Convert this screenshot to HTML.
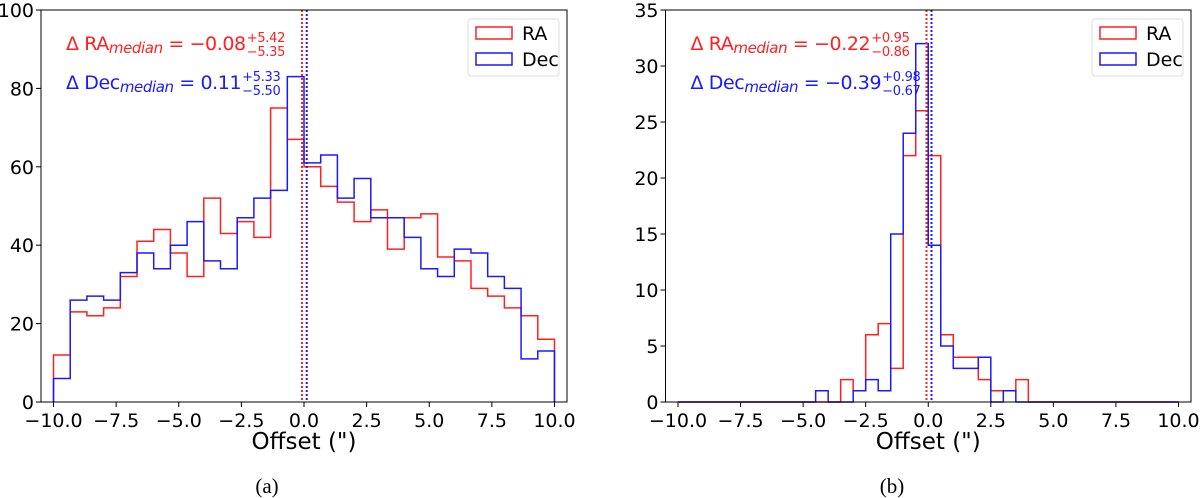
<!DOCTYPE html>
<html><head><meta charset="utf-8"><style>
body{margin:0;background:#fff;}
svg{display:block;font-family:"DejaVu Sans","Liberation Sans",sans-serif;}
</style></head><body>
<svg id="fig" width="1200" height="498" viewBox="0 0 1200 498"></svg>
<script>
// Panel (a) data: 30 bins from -10 to 10
const binsA = 30;
const raA = [12,23,22,24,32,41,44,38,32,52,43,46,42,75,67,60,55,51,46,49,39,47,48,37,36,29,27,24,22,16];
const decA = [6,26,27,26,33,38,34,40,46,36,34,47,52,54,83,61,63,52,57,47,47,42,34,32,39,38,32,29,11,13];
const yTicksA = [0,20,40,60,80,100];
// Panel (b) data: 40 bins from -10 to 10
const binsB = 40;
const raB = [0,0,0,0,0,0,0,0,0,0,0,0,0,2,1,6,7,3,22,26,22,6,4,4,2,1,1,2,0,0,0,0,0,0,0,0,0,0,0,0];
const decB = [0,0,0,0,0,0,0,0,0,0,0,1,0,0,1,2,1,15,24,32,14,5,3,3,4,0,1,0,0,0,0,0,0,0,0,0,0,0,0,0];
const yTicksB = [0,5,10,15,20,25,30,35];
const xTicks = [-10,-7.5,-5,-2.5,0,2.5,5,7.5,10];
const medA = [-0.08, 0.11];
const medB = [-0.07, 0.13];

const NS="http://www.w3.org/2000/svg";
const svg=document.getElementById('fig');
function mk(tag,attrs,parent){const e=document.createElementNS(NS,tag);for(const k in attrs)e.setAttribute(k,attrs[k]);(parent||svg).appendChild(e);return e;}

function panel(cfg){
  const g=mk('g',{});
  
  
  const L=cfg.left,R=cfg.right,T=10,B=402;
  const xs=v=>L+(v+10.5)/21*(R-L);
  const ys=v=>B-v/cfg.ymax*(B-T);
  cfg.yticks.forEach(t=>{
    mk('line',{x1:L-5,x2:L,y1:ys(t),y2:ys(t),stroke:'#000','stroke-width':1},g);
    const tx=mk('text',{x:L-7,y:ys(t)+7,'text-anchor':'end','font-size':19},g);
    tx.textContent=t;
    
    
  });
  xTicks.forEach(t=>{
    mk('line',{x1:xs(t),x2:xs(t),y1:B,y2:B+5,stroke:'#000','stroke-width':1},g);
    const tx=mk('text',{x:xs(t),y:B+25,'text-anchor':'middle','font-size':19},g);
    tx.textContent=(t<0?'\u2212':'')+Math.abs(t).toFixed(1);
    
    
  });
  function step(vals,n,color,nm){
    const w=20/n;let d='M'+xs(-10)+','+ys(0);
    vals.forEach((v,i)=>{d+=' L'+xs(-10+i*w)+','+ys(v)+' L'+xs(-10+(i+1)*w)+','+ys(v);});
    d+=' L'+xs(10)+','+ys(0);
    const p=mk('path',{d:d,fill:'none',stroke:color,'stroke-width':1.5},g);
    
    
  }
  step(cfg.ra,cfg.n,'#ff2020','ra-histogram');
  step(cfg.dec,cfg.n,'#1a1aff','dec-histogram');
  const m1=mk('line',{x1:xs(cfg.med[0]),x2:xs(cfg.med[0]),y1:T,y2:B,stroke:'#ff2020','stroke-width':2,'stroke-dasharray':'2,2'},g);
  
  
  const m2=mk('line',{x1:xs(cfg.med[1]),x2:xs(cfg.med[1]),y1:T,y2:B,stroke:'#1a1aff','stroke-width':2,'stroke-dasharray':'2,2'},g);
  
  
  const fr=mk('rect',{x:L,y:T,width:R-L,height:B-T,fill:'none',stroke:'#000','stroke-width':1},g);
  
  
  const xl=mk('text',{x:(L+R)/2,y:449,'text-anchor':'middle','font-size':23},g);
  xl.textContent='Offset (")';
  
  
  const cp=mk('text',{x:cfg.capX,y:493,'text-anchor':'middle','font-size':21,'font-family':'Liberation Serif, serif'},g);
  cp.textContent=cfg.cap;
  
  
  function ann(y,color,main,val,sup,sub,nm){
    const t=mk('text',{x:L+25,y:y,fill:color,'font-size':19,'letter-spacing':'-0.4'},g);
    
    
    t.innerHTML='\u0394 '+main+'<tspan font-style="italic" font-size="15" dy="3">median</tspan><tspan dy="-3"> = '+val+'</tspan>';
    const bb=t.getBBox();
    const s1=mk('text',{x:bb.x+bb.width+1,y:y-8,fill:color,'font-size':13,'letter-spacing':'-0.3'},g);s1.textContent=sup;
    const s2=mk('text',{x:bb.x+bb.width+1,y:y+6,fill:color,'font-size':13,'letter-spacing':'-0.3'},g);s2.textContent=sub;
  }
  ann(50,'#ff2020','RA',cfg.raTxt[0],cfg.raTxt[1],cfg.raTxt[2],'ra-median-annotation');
  ann(89,'#1a1aff','Dec',cfg.decTxt[0],cfg.decTxt[1],cfg.decTxt[2],'dec-median-annotation');
  const lg=mk('g',{},g);
  
  
  mk('rect',{x:R-99,y:19,width:91,height:57,rx:3,fill:'#fff',stroke:'#ddd'},lg);
  mk('rect',{x:R-91,y:27,width:36,height:12,fill:'none',stroke:'#ff2020','stroke-width':1.5},lg);
  mk('rect',{x:R-91,y:53,width:36,height:12,fill:'none',stroke:'#1a1aff','stroke-width':1.5},lg);
  const l1=mk('text',{x:R-45,y:40,'font-size':19},lg);l1.textContent='RA';
  const l2=mk('text',{x:R-45,y:66,'font-size':19},lg);l2.textContent='Dec';
}
panel({name:'panel-a',left:41,right:567,ymax:100,yticks:yTicksA,n:binsA,ra:raA,dec:decA,med:medA,cap:'(a)',capX:267,
  raTxt:['\u22120.08','+5.42','\u22125.35'],decTxt:['0.11','+5.33','\u22125.50']});
panel({name:'panel-b',left:665.5,right:1191,ymax:35,yticks:yTicksB,n:binsB,ra:raB,dec:decB,med:medB,cap:'(b)',capX:892,
  raTxt:['\u22120.22','+0.95','\u22120.86'],decTxt:['\u22120.39','+0.98','\u22120.67']});
</script>
</body></html>
